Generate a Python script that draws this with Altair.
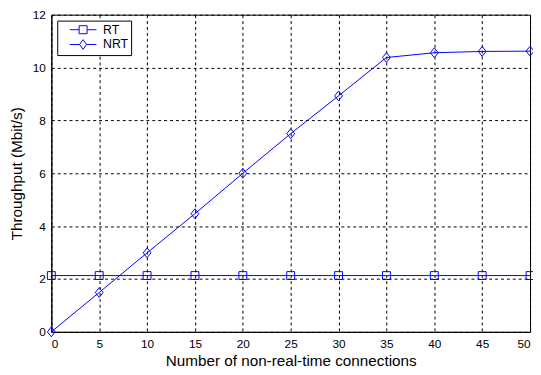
import altair as alt
import pandas as pd

connections = [0, 5, 10, 15, 20, 25, 30, 35, 40, 45, 50]
rt_throughput = [2.13, 2.13, 2.13, 2.13, 2.13, 2.13, 2.13, 2.13, 2.13, 2.13, 2.13]
nrt_throughput = [0.0, 1.49, 2.99, 4.47, 6.0, 7.5, 8.93, 10.38, 10.56, 10.61, 10.62]
series_names = ["RT", "NRT"]

rows = []
for x, v in zip(connections, rt_throughput):
    rows.append({"x": x, "y": v, "series": "RT"})
for x, v in zip(connections, nrt_throughput):
    rows.append({"x": x, "y": v, "series": "NRT"})
df = pd.DataFrame(rows)

BLUE = "#0000ff"
FONT = "Liberation Sans"

xenc = alt.X("x:Q", scale=alt.Scale(domain=[0, 50], nice=False),
             axis=alt.Axis(values=list(range(0, 51, 5)), title="Number of non-real-time connections",
                           labelPadding=7, titlePadding=4))
yenc = alt.Y("y:Q", scale=alt.Scale(domain=[0, 12], nice=False),
             axis=alt.Axis(values=list(range(0, 13, 2)), title="Throughput (Mbit/s)",
                           labelPadding=6, titlePadding=8))

lines = alt.Chart(df).mark_line(color=BLUE, strokeWidth=1).encode(
    x=xenc, y=yenc, detail="series:N"
)

diamond = "M0,-1L0.8,0L0,1L-0.8,0Z"
points = alt.Chart(df).mark_point(filled=False, color=BLUE, strokeWidth=1, opacity=1).encode(
    x="x:Q", y="y:Q",
    shape=alt.Shape("series:N", scale=alt.Scale(domain=series_names, range=["square", diamond]), legend=None),
    size=alt.Size("series:N", scale=alt.Scale(domain=series_names, range=[64, 100]), legend=None),
)

leg_sq = "M-3,0L-0.9,0M0.9,0L3,0M-0.9,-0.9L0.9,-0.9L0.9,0.9L-0.9,0.9Z"
leg_di = "M-3,0L-0.8,0M0.8,0L3,0M0,-1.1L0.8,0L0,1.1L-0.8,0Z"
legend_layer = alt.Chart(df).mark_point(filled=False, color=BLUE, strokeWidth=1, opacity=1).encode(
    x="x:Q", y="y:Q",
    shape=alt.Shape("series:N", scale=alt.Scale(domain=series_names, range=[leg_sq, leg_di]),
                    legend=alt.Legend(title=None, orient="top-left", offset=6,
                                      symbolSize=81, symbolOffset=17,
                                      symbolStrokeColor=BLUE, symbolFillColor="transparent",
                                      symbolStrokeWidth=1, labelFont=FONT, labelFontSize=12.5,
                                      labelColor="black", labelOffset=14,
                                      labelExpr="datum.label + '\u00a0\u00a0\u00a0\u00a0\u00a0\u00a0'",
                                      strokeColor="black", fillColor="white", padding=3,
                                      rowPadding=1)),
).transform_filter("false")

chart = alt.layer(lines, points, legend_layer).resolve_scale(
    shape="independent", size="independent"
).properties(
    width=486, height=322,
    background="white",
    autosize=alt.AutoSizeParams(type="none"),
    padding={"left": 44, "top": 4, "right": 3, "bottom": 41},
).configure_view(
    stroke="black", strokeWidth=1
).configure_axis(
    grid=True, gridColor="black", gridDash=[3, 3], gridOpacity=1, gridWidth=1,
    domainColor="black", domainWidth=1, ticks=False,
    labelFont=FONT, labelFontSize=12, labelColor="black",
    titleFont=FONT, titleFontSize=15.5, titleFontWeight="normal", titleColor="black",
)

chart.save("out.html", embed_options={"renderer": "svg", "actions": False})
